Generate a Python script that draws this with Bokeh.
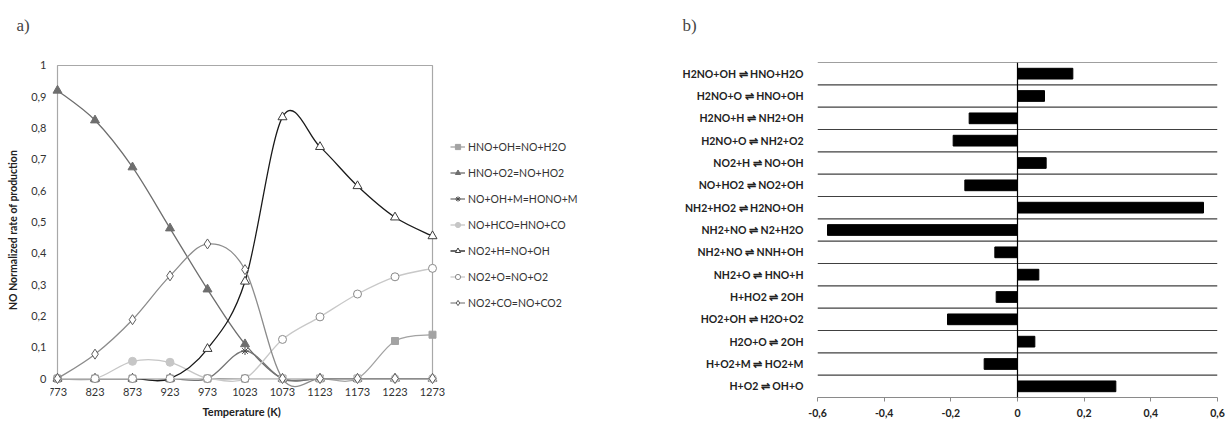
from bokeh.plotting import figure
from bokeh.layouts import row
from bokeh.models import (Range1d, FactorRange, FixedTicker, CustomJSTickFormatter,
                          Legend, LegendItem, ColumnDataSource, Span, Title)
from bokeh.transform import dodge
from bokeh.embed import file_html
from bokeh.resources import INLINE

# ---------------- data (a) ----------------
TEMPS = [773, 823, 873, 923, 973, 1023, 1073, 1123, 1173, 1223, 1273]
HNO_OH = [0, 0, 0, 0, 0, 0, 0, 0, 0, 0.12, 0.14]
HNO_O2 = [0.92, 0.825, 0.675, 0.48, 0.285, 0.11, 0, 0, 0, 0, 0]
NO_OH_M = [0, 0, 0, 0, 0, 0.088, 0, 0, 0, 0, 0]
NO_HCO = [0, 0, 0.055, 0.052, 0, 0, 0, 0, 0, 0, 0]
NO2_H = [0, 0, 0, 0, 0.095, 0.31, 0.835, 0.74, 0.615, 0.515, 0.455]
NO2_O = [0, 0, 0, 0, 0, 0, 0.125, 0.197, 0.27, 0.325, 0.352]
NO2_CO = [0, 0.078, 0.188, 0.328, 0.43, 0.348, 0, 0, 0, 0, 0]
SERIES_NAMES = ["HNO+OH=NO+H2O", "HNO+O2=NO+HO2", "NO+OH+M=HONO+M", "NO+HCO=HNO+CO",
                "NO2+H=NO+OH", "NO2+O=NO+O2", "NO2+CO=NO+CO2"]
SERIES = [HNO_OH, HNO_O2, NO_OH_M, NO_HCO, NO2_H, NO2_O, NO2_CO]
Y_TICKS = [0, 0.1, 0.2, 0.3, 0.4, 0.5, 0.6, 0.7, 0.8, 0.9, 1]

# ---------------- data (b) ----------------
REACTIONS = ["H2NO+OH \u21cc HNO+H2O", "H2NO+O \u21cc HNO+OH", "H2NO+H \u21cc NH2+OH",
             "H2NO+O \u21cc NH2+O2", "NO2+H \u21cc NO+OH", "NO+HO2 \u21cc NO2+OH",
             "NH2+HO2 \u21cc H2NO+OH", "NH2+NO \u21cc N2+H2O", "NH2+NO \u21cc NNH+OH",
             "NH2+O \u21cc HNO+H", "H+HO2 \u21cc 2OH", "HO2+OH \u21cc H2O+O2",
             "H2O+O \u21cc 2OH", "H+O2+M \u21cc HO2+M", "H+O2 \u21cc OH+O"]
SENS = [0.166, 0.081, -0.145, -0.193, 0.086, -0.158, 0.558, -0.570, -0.068,
        0.064, -0.064, -0.21, 0.052, -0.10, 0.295]
SENS_TICKS = [-0.6, -0.4, -0.2, 0, 0.2, 0.4, 0.6]

# styles: line colour, marker, size, fill, marker line
STYLES = [
    ("#a3a3a3", "square", 7, "#a3a3a3", "#a3a3a3"),
    ("#6e6e6e", "triangle", 9, "#6e6e6e", "#6e6e6e"),
    ("#757575", "asterisk", 8, None, "#4a4a4a"),
    ("#c6c6c6", "circle", 8, "#c6c6c6", "#c6c6c6"),
    ("#1a1a1a", "triangle", 9, "white", "#3c3c3c"),
    ("#c8c8c8", "circle", 8, "white", "#8a8a8a"),
    ("#8c8c8c", "diamond", 10, "white", "#5c5c5c"),
]

FONT = "Lato"

comma_fmt = CustomJSTickFormatter(code="""
    if (Math.abs(tick) < 1e-9) return "0";
    if (Math.abs(tick - Math.round(tick)) < 1e-9) return tick.toFixed(0);
    return tick.toFixed(1).replace('.', ',');
""")


def smooth(xs, ys):
    """Excel-like smoothed line: cubic bezier segments through the data points."""
    n = len(xs)
    d = dict(x0=[], y0=[], x1=[], y1=[], cx0=[], cy0=[], cx1=[], cy1=[])
    for i in range(n - 1):
        pm = i - 1 if i > 0 else i
        pp = i + 2 if i + 2 < n else i + 1
        d["x0"].append(xs[i]); d["y0"].append(ys[i])
        d["x1"].append(xs[i + 1]); d["y1"].append(ys[i + 1])
        d["cx0"].append(xs[i] + (xs[i + 1] - xs[pm]) / 6.0)
        d["cy0"].append(ys[i] + (ys[i + 1] - ys[pm]) / 6.0)
        d["cx1"].append(xs[i + 1] - (xs[pp] - xs[i]) / 6.0)
        d["cy1"].append(ys[i + 1] - (ys[pp] - ys[i]) / 6.0)
    return ColumnDataSource(d)


def add_titles(p, text, offset):
    # spacer title (closest to the frame) lifts the panel title upwards
    p.add_layout(Title(text=" ", text_font_size="8px", standoff=12), "above")
    p.add_layout(Title(text=text, text_font="Liberation Serif", text_font_size="17px",
                       text_font_style="normal", offset=offset), "above")


TOP = 62      # both frames share top / bottom borders (row aligns them)
BOTTOM = 25

# ================= figure a =================
PX_PER_K = 0.75
PX_PER_UNIT = 314.0
FRAME_W_A = 550
X_START = TEMPS[0] - 7 / PX_PER_K
X_END = X_START + FRAME_W_A / PX_PER_K

pa = figure(width=600, height=423, output_backend="svg", toolbar_location=None,
            x_range=Range1d(X_START, X_END),
            y_range=Range1d(-19 / PX_PER_UNIT, 1 + 3 / PX_PER_UNIT),
            min_border_left=50, min_border_right=0, min_border_top=TOP,
            min_border_bottom=BOTTOM, title=None)
pa.outline_line_color = None
pa.xgrid.visible = False
pa.ygrid.visible = False
add_titles(pa, "a)", -34)

pa.quad(left=TEMPS[0], right=TEMPS[-1], bottom=Y_TICKS[0], top=Y_TICKS[-1],
        fill_color=None, line_color="#a8a8a8", line_width=1.2, level="underlay")

items = []
for name, ys, (lc, mk, sz, fc, mlc) in zip(SERIES_NAMES, SERIES, STYLES):
    src = smooth(TEMPS, ys)
    lr = pa.bezier(x0="x0", y0="y0", x1="x1", y1="y1", cx0="cx0", cy0="cy0",
                   cx1="cx1", cy1="cy1", source=src, line_color=lc, line_width=1.3)
    sr = pa.scatter(TEMPS, ys, marker=mk, size=sz, fill_color=fc,
                    line_color=mlc, line_width=1)
    items.append(LegendItem(label=name, renderers=[lr, sr]))

leg = Legend(items=items, location=(400, 88), margin=0, padding=0,
             border_line_color=None, background_fill_alpha=0,
             glyph_width=15, glyph_height=13, label_height=13, spacing=13,
             label_standoff=3, label_text_font=FONT, label_text_font_size="10.5px",
             label_text_color="#333333")
pa.add_layout(leg, "center")

pa.xaxis.ticker = FixedTicker(ticks=TEMPS)
pa.xaxis.fixed_location = -9 / PX_PER_UNIT
pa.yaxis.ticker = FixedTicker(ticks=Y_TICKS)
pa.yaxis.formatter = comma_fmt
for ax in (pa.xaxis[0], pa.yaxis[0]):
    ax.axis_line_color = None
    ax.major_tick_line_color = None
    ax.minor_tick_line_color = None
    ax.major_tick_in = 0
    ax.major_tick_out = 0
    ax.minor_tick_in = 0
    ax.minor_tick_out = 0
    ax.major_label_text_font = FONT
    ax.major_label_text_font_size = "11px"
    ax.major_label_text_color = "#333333"
pa.xaxis.major_label_standoff = 0
pa.yaxis.major_label_standoff = 4
pa.yaxis.axis_label = "NO Normalized rate of production"
pa.yaxis.axis_label_text_font = FONT
pa.yaxis.axis_label_text_font_size = "10.5px"
pa.yaxis.axis_label_text_font_style = "bold"
pa.yaxis.axis_label_text_color = "#222222"
pa.yaxis.axis_label_standoff = 9
pa.add_layout(Title(text="Temperature (K)", text_font=FONT, text_font_size="11px",
                    text_font_style="bold", text_color="#222222", align="left",
                    offset=152, standoff=11), "below")

# ================= figure b =================
pb = figure(width=625, height=423, output_backend="svg", toolbar_location=None,
            x_range=Range1d(SENS_TICKS[0], SENS_TICKS[-1]),
            y_range=FactorRange(factors=list(reversed(REACTIONS))),
            min_border_left=217, min_border_right=8, min_border_top=TOP,
            min_border_bottom=BOTTOM, title=None)
pb.outline_line_color = None
pb.xgrid.visible = False
pb.ygrid.visible = False
add_titles(pb, "b)", -135)

srcb = ColumnDataSource(dict(r=REACTIONS, v=SENS))
pb.segment(x0=SENS_TICKS[0], x1=SENS_TICKS[-1],
           y0=dodge("r", 0.5, range=pb.y_range), y1=dodge("r", 0.5, range=pb.y_range),
           source=srcb, line_color="#404040", line_width=1.2)
pb.hbar(y="r", left=0, right="v", height=0.48, source=srcb,
        fill_color="black", line_color="black")
pb.add_layout(Span(location=0, dimension="height", line_color="black", line_width=1.2))

pb.xaxis.ticker = FixedTicker(ticks=SENS_TICKS)
pb.xaxis.formatter = comma_fmt
pb.xaxis.axis_line_color = "#8a8a8a"
pb.xaxis.major_tick_line_color = "#8a8a8a"
pb.xaxis.major_tick_in = 0
pb.xaxis.major_tick_out = 4
pb.xaxis.minor_tick_line_color = None
pb.xaxis.minor_tick_in = 0
pb.xaxis.minor_tick_out = 0
pb.xaxis.major_label_standoff = 7
pb.yaxis.axis_line_color = None
pb.yaxis.major_tick_line_color = None
pb.yaxis.major_tick_in = 0
pb.yaxis.major_tick_out = 0
pb.yaxis.major_label_standoff = 14
for ax in (pb.xaxis[0], pb.yaxis[0]):
    ax.major_label_text_font = FONT
    ax.major_label_text_font_size = "10.5px"
    ax.major_label_text_font_style = "bold"
    ax.major_label_text_color = "#222222"

layout = row(pa, pb)
open("out.html", "w").write(file_html(layout, INLINE))
